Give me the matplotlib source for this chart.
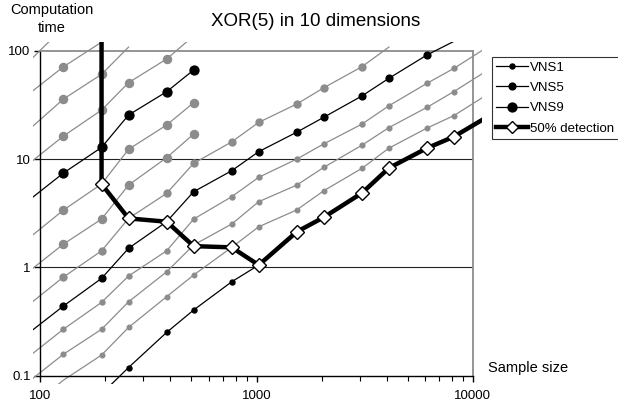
import numpy as np
import matplotlib
matplotlib.use('Agg')
import matplotlib.pyplot as plt
from matplotlib.lines import Line2D
from matplotlib.patches import Rectangle
from matplotlib.ticker import FixedLocator, NullFormatter, FixedFormatter

plt.rcParams['font.family'] = ['Liberation Sans', 'DejaVu Sans']

nan = np.nan
# sample sizes (64 and 12288 lie outside the axes, only the line stubs show)
samples = [64, 128, 192, 256, 384, 512, 768, 1024, 1536, 2048, 3072, 4096, 6144, 8192, 12288]

vns1 = [nan, nan, 0.068, 0.119, 0.251, 0.404, 0.736, 1.05, 2.13, 2.9, 4.85, 8.26, 12.6, 16.1, 26]
vns2 = [0.03, 0.091, 0.155, 0.279, 0.536, 0.85, 1.53, 2.37, 3.39, 5.1, 8.2, 12.6, 19.3, 25.2, 42]
vns3 = [0.053, 0.158, 0.268, 0.481, 0.91, 1.61, 2.51, 4.04, 5.75, 8.38, 13.4, 19.5, 30, 42, 70]
vns4 = [0.09, 0.269, 0.475, 0.832, 1.42, 2.79, 4.49, 6.78, 10.0, 13.8, 21, 31, 50, 68.7, 115]
vns5 = [0.15, 0.44, 0.791, 1.50, 2.64, 4.99, 7.80, 11.7, 17.7, 24.3, 38.2, 55.6, 91.3, 122, nan]
vns6 = [0.27, 0.814, 1.42, 2.83, 4.82, 9.12, 14.4, 21.8, 32.2, 45.5, 71.1, 108, nan, nan, nan]
vns7 = [0.55, 1.64, 2.79, 5.75, 10.3, 17.0] + [nan] * 9
vns8 = [1.1, 3.38, 5.88, 12.3, 20.6, 33.1] + [nan] * 9
vns9 = [2.5, 7.43, 12.8, 25.5, 41.8, 66.4] + [nan] * 9
vns10 = [5.4, 16.3, 28.3, 50.7, 83.8, 137] + [nan] * 9
vns11 = [10.5, 35.8, 60.5, 108] + [nan] * 11
vns12 = [24, 71.1, 120] + [nan] * 12
vns13 = [42, 164] + [nan] * 13

det_samples = [192, 192, 256, 384, 512, 768, 1024, 1536, 2048, 3072, 4096, 6144, 8192, 12288]
det_time = [1000, 5.88, 2.83, 2.64, 1.57, 1.53, 1.05, 2.13, 2.9, 4.85, 8.26, 12.6, 16.1, 26]

grey = '#8c8c8c'

fig = plt.figure(figsize=(6.18, 4.05), dpi=100)
ax = fig.add_axes([40.3 / 618, 1 - 375.7 / 405, 432.4 / 618, 325 / 405])
ax.set_xscale('log')
ax.set_yscale('log')
ax.set_xlim(100, 10000)
ax.set_ylim(0.1, 100)

# lines run a little past the plot area, like the original
clip = Rectangle((-0.017, -0.026), 1.038, 1.053, transform=ax.transAxes,
                 fill=False, visible=False)


def in_plot(xs, ys):
    return (~np.isnan(ys)) & (xs >= 100) & (xs <= 10000) & (ys >= 0.1) & (ys <= 100)


def draw(ys, color, ms, z, lw=0.9):
    xs = np.array(samples, float)
    ys = np.array(ys, float)
    ok = ~np.isnan(ys)
    ln, = ax.plot(xs[ok], ys[ok], color=color, lw=lw, zorder=z)
    ln.set_clip_path(clip)
    inside = in_plot(xs, ys)
    ax.plot(xs[inside], ys[inside], ls='none', marker='o', ms=ms, color=color,
            mec=color, clip_on=False, zorder=z + 0.1)


for ys, ms in [(vns2, 3.3), (vns3, 3.4), (vns4, 3.6), (vns6, 5.0), (vns7, 5.8),
               (vns8, 5.8), (vns10, 5.8), (vns11, 5.8), (vns12, 5.8), (vns13, 5.8)]:
    draw(ys, grey, ms, 2)

draw(vns1, 'black', 3.6, 3)
draw(vns5, 'black', 4.9, 3)
draw(vns9, 'black', 6.4, 3)

dx = np.array(det_samples, float)
dy = np.array(det_time, float)
ln, = ax.plot(dx, dy, color='black', lw=3.2, zorder=4, solid_joinstyle='miter')
ln.set_clip_path(clip)
m = in_plot(dx, dy)
ax.plot(dx[m], dy[m], ls='none', marker='D', ms=7, mfc='white', mec='black',
        mew=1.0, clip_on=False, zorder=5)

# grid and frame
for g in [1, 10]:
    ax.axhline(g, color='#222222', lw=0.8, zorder=1)
ax.spines['left'].set_color('black')
ax.spines['bottom'].set_color('black')
ax.spines['left'].set_linewidth(1.0)
ax.spines['bottom'].set_linewidth(1.0)
ax.spines['top'].set_color('#8c8c8c')
ax.spines['right'].set_color('#8c8c8c')
ax.spines['top'].set_linewidth(1.3)
ax.spines['right'].set_linewidth(1.3)

ax.xaxis.set_major_locator(FixedLocator([100, 1000, 10000]))
ax.xaxis.set_major_formatter(FixedFormatter(['100', '1000', '10000']))
minor = [k * d for d in [100, 1000] for k in range(2, 10)]
ax.xaxis.set_minor_locator(FixedLocator(minor))
ax.xaxis.set_minor_formatter(NullFormatter())
ax.yaxis.set_major_locator(FixedLocator([0.1, 1, 10, 100]))
ax.yaxis.set_major_formatter(FixedFormatter(['0.1', '1', '10', '100']))
ax.yaxis.set_minor_locator(FixedLocator([]))
ax.tick_params(axis='both', which='major', length=4, width=1, labelsize=9.5, color='black')
ax.tick_params(axis='x', which='minor', length=3.5, width=0.8)
ax.tick_params(axis='x', which='major', pad=6)
ax.tick_params(axis='y', which='major', pad=3)

fig.text(52 / 618, 1 - 19 / 405, 'Computation\ntime', ha='center', va='center',
         fontsize=10.5, linespacing=1.3)
fig.text(316 / 618, 1 - 21 / 405, 'XOR(5) in 10 dimensions', ha='center',
         va='center', fontsize=13.5)
fig.text(488 / 618, 1 - 368 / 405, 'Sample size', ha='left', va='center',
         fontsize=10.5)

handles = [
    Line2D([], [], color='black', lw=0.9, marker='o', ms=3.6),
    Line2D([], [], color='black', lw=0.9, marker='o', ms=4.9),
    Line2D([], [], color='black', lw=0.9, marker='o', ms=6.4),
    Line2D([], [], color='black', lw=3.2, marker='D', ms=6, mfc='white',
           mec='black', mew=1.0),
]
leg = fig.legend(handles, ['VNS1', 'VNS5', 'VNS9', '50% detection'],
                 loc='upper left', bbox_to_anchor=(491.7 / 618, 1 - 56.7 / 405),
                 bbox_transform=fig.transFigure, borderaxespad=0, fontsize=9.5,
                 frameon=True, fancybox=False, handlelength=2.4,
                 handletextpad=0.15, labelspacing=0.62, borderpad=0.35)
leg.get_frame().set_edgecolor('black')
leg.get_frame().set_linewidth(0.8)

fig.savefig('out.png', dpi=100)
